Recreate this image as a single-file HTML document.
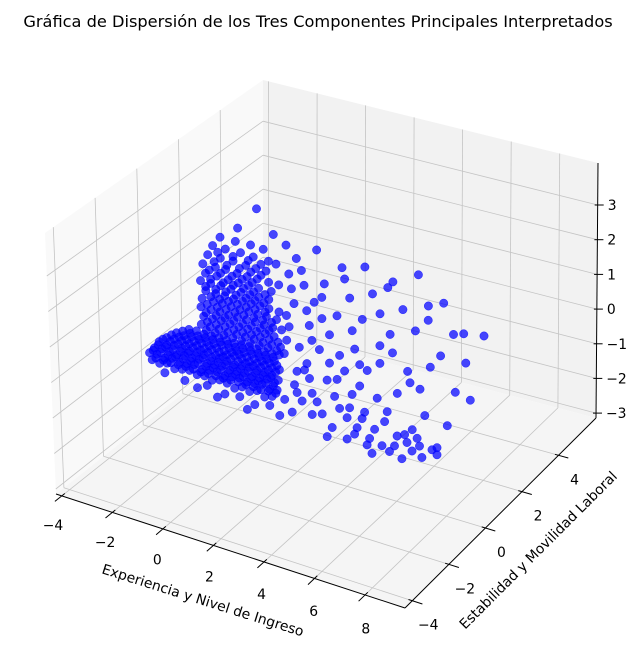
<!DOCTYPE html>
<html><head><meta charset="utf-8"><style>
html,body{margin:0;padding:0;background:#fff}
svg{display:block;font-family:"DejaVu Sans","Liberation Sans",sans-serif}
</style></head><body>
<svg id="chart" width="636" height="658" viewBox="0 0 636 658" xmlns="http://www.w3.org/2000/svg">
<rect width="636" height="658" fill="#fff"/>
<text x="318" y="27" text-anchor="middle" font-size="16.2" fill="#000">Gráfica de Dispersión de los Tres Componentes Principales Interpretados</text>
<g id="panes"></g>
<g id="grid"></g>
<g id="axes"></g>
<g id="points"></g>
<text x="203" y="605" text-anchor="middle" font-size="13.9" transform="rotate(17.5 203 600)">Experiencia y Nivel de Ingreso</text>
<text x="538" y="555" text-anchor="middle" font-size="13.9" transform="rotate(-45 538 550)">Estabilidad y Movilidad Laboral</text>
</svg>
<script>
const xTicks=[-4,-2,0,2,4,6,8];
const yTicks=[-4,-2,0,2,4];
const zTicks=[-3,-2,-1,0,1,2,3];
const xRange=[-4.23,9.58];
const yRange=[-4.4,6.05];
const zRange=[-3.14,4.21];
// dense cluster: [x, y, z]
const denseCluster=[
[-3.8,0,-1.18],[-3.5,0,-1.22],[-3.2,0,-1.15],[-2.9,0,-1.25],[-2.6,0,-1.2],[-2.3,0,-1.17],[-2.0,0,-1.23],[-1.7,0,-1.2],[-1.4,0,-1.26],[-1.1,0,-1.19],[-0.8,0,-1.22],[-0.5,0,-1.3],[-0.2,0,-1.2],[0.1,0,-1.27],[0.4,0,-1.18],[0.7,0,-1.3],[1.0,0,-1.22],
[-3.9,0,-1.0],[-3.6,0,-0.98],[-3.3,0,-1.03],[-3.0,0,-0.97],[-2.7,0,-1.02],[-2.4,0,-1.0],[-2.1,0,-0.96],[-1.8,0,-1.04],[-1.5,0,-1.0],[-1.2,0,-0.98],[-0.9,0,-1.03],[-0.6,0,-1.0],[-0.3,0,-0.97],[0.0,0,-1.02],[0.3,0,-1.0],[0.6,0,-0.96],[0.9,0,-1.04],[1.2,0,-1.0],
[-3.7,0,-0.82],[-3.4,0,-0.78],[-3.1,0,-0.8],[-2.8,0,-0.83],[-2.5,0,-0.79],[-2.2,0,-0.8],[-1.9,0,-0.77],[-1.6,0,-0.82],[-1.3,0,-0.8],[-1.0,0,-0.78],[-0.7,0,-0.83],[-0.4,0,-0.8],[-0.1,0,-0.79],[0.2,0,-0.82],[0.5,0,-0.8],[0.8,0,-0.77],[1.1,0,-0.81],
[-3.5,0,-0.6],[-3.2,0,-0.63],[-2.9,0,-0.58],[-2.6,0,-0.6],[-2.3,0,-0.62],[-2.0,0,-0.59],[-1.7,0,-0.6],[-1.4,0,-0.61],[-1.1,0,-0.58],[-0.8,0,-0.6],[-0.5,0,-0.63],[-0.2,0,-0.6],[0.1,0,-0.58],[0.4,0,-0.61],[0.7,0,-0.6],[1.0,0,-0.62],
[-3.2,0,-0.42],[-2.9,0,-0.4],[-2.6,0,-0.38],[-2.3,0,-0.41],[-2.0,0,-0.4],[-1.7,0,-0.42],[-1.4,0,-0.39],[-1.1,0,-0.4],[-0.8,0,-0.41],[-0.5,0,-0.38],[-0.2,0,-0.4],[0.1,0,-0.42],[0.4,0,-0.4],[0.7,0,-0.39],[1.0,0,-0.41],[1.3,0,-0.4],
[-2.8,0,-0.2],[-2.5,0,-0.22],[-2.2,0,-0.19],[-1.9,0,-0.2],[-1.6,0,-0.21],[-1.3,0,-0.2],[-1.0,0,-0.18],[-0.7,0,-0.2],[-0.4,0,-0.22],[-0.1,0,-0.2],[0.2,0,-0.19],[0.5,0,-0.2],[0.8,0,-0.21],[1.1,0,-0.2],
[-2.3,0,0.0],[-2.0,0,0.02],[-1.7,0,-0.01],[-1.4,0,0.0],[-1.1,0,0.01],[-0.8,0,0.0],[-0.5,0,-0.02],[-0.2,0,0.0],[0.1,0,0.01],[0.4,0,0.0],[0.7,0,-0.01],[1.0,0,0.0],[1.3,0,0.02],
[-3.3,0,-1.45],[-2.5,0,-1.5],[-1.6,0,-1.45],[-0.9,0,-1.55],[-0.3,0,-1.5],[0.3,0,-1.6],[0.9,0,-1.5],[-2.0,0,-1.6],[1.3,0,-1.7],[0.0,0,-1.8],[-1.2,0,-1.7],
[-1.8,0,0.25],[-1.45,0,0.25],[-1.1,0,0.26],[-0.75,0,0.24],[-0.4,0,0.25],[-0.05,0,0.25],[0.3,0,0.26],[0.65,0,0.24],[1.0,0,0.25],[1.35,0,0.25],
[-1.7,0,0.5],[-1.35,0,0.5],[-1.0,0,0.52],[-0.65,0,0.5],[-0.3,0,0.49],[0.05,0,0.5],[0.4,0,0.5],[0.75,0,0.51],[1.1,0,0.5],
[-1.8,0,0.75],[-1.4,0,0.75],[-1.05,0,0.76],[-0.7,0,0.74],[-0.35,0,0.75],[0.0,0,0.75],[0.35,0,0.76],[0.7,0,0.75],[1.05,0,0.74],[1.4,0,0.75],
[-1.75,0,1.0],[-1.3,0,1.0],[-0.95,0,1.02],[-0.6,0,1.0],[-0.25,0,0.99],[0.1,0,1.0],[0.45,0,1.0],[0.8,0,1.01],[1.2,0,1.0],
[-1.6,0,1.25],[-1.2,0,1.25],[-0.85,0,1.26],[-0.5,0,1.24],[-0.15,0,1.25],[0.2,0,1.25],[0.55,0,1.26],[0.9,0,1.25],[1.3,0,1.24],
[-1.8,0,1.5],[-1.4,0,1.5],[-1.0,0,1.52],[-0.6,0,1.5],[-0.2,0,1.49],[0.15,0,1.5],[0.5,0,1.5],[0.9,0,1.51],
[-1.6,0,1.75],[-1.15,0,1.76],[-0.7,0,1.75],[-0.3,0,1.74],[0.1,0,1.75],[0.5,0,1.75],[1.0,0,1.76],
[-1.7,0,2.0],[-1.2,0,2.0],[-0.8,0,2.02],[-0.35,0,2.0],[0.05,0,1.99],[0.45,0,2.0],[0.9,0,2.0],[1.3,0,2.01],
[-1.5,0,2.3],[-1.0,0,2.3],[-0.5,0,2.32],[0.0,0,2.3],[0.4,0,2.29],[0.8,0,2.3],
[-1.3,0,2.6],[-0.8,0,2.6],[-0.2,0,2.62],[0.3,0,2.6],[0.9,0,2.6],[1.2,0,2.58],
[-1.0,0,2.9],[-0.4,0,2.9],[0.2,0,2.92],[0.7,0,2.9],
[0.45,0,4.0],[-0.3,0,3.3],[1.1,0,3.4]
];
// additional dense-cluster points filling the core: [x, y, z]
const denseFill=[
[-3.65,0,-1.1],[-3.35,0,-1.1],[-3.05,0,-1.11],[-2.75,0,-1.1],[-2.45,0,-1.09],[-2.15,0,-1.1],[-1.85,0,-1.12],[-1.55,0,-1.1],[-1.25,0,-1.1],[-0.95,0,-1.11],[-0.65,0,-1.1],[-0.35,0,-1.09],[-0.05,0,-1.1],[0.25,0,-1.1],[0.55,0,-1.12],[0.85,0,-1.1],[1.15,0,-1.1],
[-3.75,0,-0.9],[-3.45,0,-0.9],[-3.15,0,-0.91],[-2.85,0,-0.9],[-2.55,0,-0.89],[-2.25,0,-0.9],[-1.95,0,-0.9],[-1.65,0,-0.92],[-1.35,0,-0.9],[-1.05,0,-0.9],[-0.75,0,-0.91],[-0.45,0,-0.9],[-0.15,0,-0.9],[0.15,0,-0.89],[0.45,0,-0.9],[0.75,0,-0.9],[1.05,0,-0.91],
[-3.55,0,-0.7],[-3.25,0,-0.7],[-2.95,0,-0.71],[-2.65,0,-0.7],[-2.35,0,-0.69],[-2.05,0,-0.7],[-1.75,0,-0.7],[-1.45,0,-0.72],[-1.15,0,-0.7],[-0.85,0,-0.7],[-0.55,0,-0.71],[-0.25,0,-0.7],[0.05,0,-0.7],[0.35,0,-0.69],[0.65,0,-0.7],[0.95,0,-0.7],[1.25,0,-0.71],
[-3.35,0,-0.5],[-3.05,0,-0.5],[-2.75,0,-0.51],[-2.45,0,-0.5],[-2.15,0,-0.49],[-1.85,0,-0.5],[-1.55,0,-0.5],[-1.25,0,-0.52],[-0.95,0,-0.5],[-0.65,0,-0.5],[-0.35,0,-0.51],[-0.05,0,-0.5],[0.25,0,-0.5],[0.55,0,-0.49],[0.85,0,-0.5],[1.15,0,-0.5],
[-3.0,0,-0.3],[-2.7,0,-0.3],[-2.4,0,-0.31],[-2.1,0,-0.3],[-1.8,0,-0.29],[-1.5,0,-0.3],[-1.2,0,-0.3],[-0.9,0,-0.32],[-0.6,0,-0.3],[-0.3,0,-0.3],[0.0,0,-0.31],[0.3,0,-0.3],[0.6,0,-0.3],[0.9,0,-0.29],[1.2,0,-0.3],
[-2.55,0,-0.1],[-2.25,0,-0.1],[-1.95,0,-0.11],[-1.65,0,-0.1],[-1.35,0,-0.09],[-1.05,0,-0.1],[-0.75,0,-0.1],[-0.45,0,-0.12],[-0.15,0,-0.1],[0.15,0,-0.1],[0.45,0,-0.11],[0.75,0,-0.1],[1.05,0,-0.1],
[-1.6,0,0.12],[-1.25,0,0.12],[-0.9,0,0.13],[-0.55,0,0.12],[-0.2,0,0.11],[0.15,0,0.12],[0.5,0,0.12],[0.85,0,0.13],[1.2,0,0.12],
[-1.55,0,0.37],[-1.2,0,0.37],[-0.85,0,0.38],[-0.5,0,0.37],[-0.15,0,0.36],[0.2,0,0.37],[0.55,0,0.37],[0.9,0,0.38],[1.25,0,0.37],
[-1.6,0,0.62],[-1.2,0,0.62],[-0.85,0,0.63],[-0.5,0,0.62],[-0.15,0,0.61],[0.2,0,0.62],[0.55,0,0.62],[0.9,0,0.63],
[-1.55,0,0.87],[-1.15,0,0.87],[-0.8,0,0.88],[-0.45,0,0.87],[-0.1,0,0.86],[0.3,0,0.87],[0.65,0,0.87],[1.0,0,0.88],
[-1.4,0,1.12],[-1.05,0,1.12],[-0.7,0,1.13],[-0.35,0,1.12],[0.0,0,1.11],[0.35,0,1.12],[0.75,0,1.12],
[-1.6,0,1.37],[-1.2,0,1.37],[-0.8,0,1.38],[-0.4,0,1.37],[0.0,0,1.36],[0.35,0,1.37],[0.7,0,1.37],
[-1.4,0,1.62],[-0.9,0,1.62],[-0.5,0,1.63],[-0.1,0,1.62],[0.3,0,1.61],[0.75,0,1.62],
[-1.45,0,1.87],[-1.0,0,1.87],[-0.55,0,1.88],[-0.15,0,1.87],[0.25,0,1.86],
[-1.25,0,2.15],[-0.75,0,2.15],[-0.25,0,2.16],[0.2,0,2.15],[0.6,0,2.14],
[-1.1,0,2.45],[-0.5,0,2.45],[0.1,0,2.46],[0.6,0,2.45]
];
// sparse cluster: [x, y, z]
const sparseCluster=[
[1.6,0,3.2],[2.2,0,2.6],[1.8,0,2.0],[2.4,0,1.5],[1.7,0,0.9],[2.1,0,0.4],[2.3,0,-0.2],[1.9,0,-0.7],[2.2,0,-1.1],[1.8,0,-1.5],[2.0,0,2.9],[1.6,0,1.2],[2.4,0,0.0],[2.0,0,-0.9],
[2.8,0,3.3],[3.1,0,2.4],[2.7,0,1.8],[3.3,0,1.0],[2.9,0,0.5],[3.2,0,-0.3],[2.6,0,-0.8],[3.0,0,-1.3],[3.4,0,-1.6],[3.0,0,2.0],[3.3,0,0.2],[2.8,0,-1.0],
[3.8,0,3.0],[4.1,0,2.2],[3.6,0,1.6],[4.3,0,0.8],[3.9,0,0.1],[4.2,0,-0.5],[3.7,0,-1.0],[4.4,0,-1.4],[4.0,0,-1.8],[4.2,0,1.3],[3.6,0,-0.2],[4.0,0,-1.2],
[4.7,0,3.2],[5.0,0,2.5],[4.6,0,1.7],[5.3,0,1.1],[4.8,0,0.3],[5.2,0,-0.4],[4.7,0,-0.9],[5.1,0,-1.3],[5.4,0,-1.7],[5.0,0,-2.0],[5.3,0,2.0],[4.6,0,-1.1],
[5.8,0,3.0],[6.2,0,2.3],[5.7,0,1.5],[6.4,0,0.6],[6.0,0,-0.1],[5.6,0,-0.7],[6.3,0,-1.2],[5.9,0,-1.6],[6.2,0,-1.9],[5.8,0,1.0],[6.4,0,-1.4],
[6.8,0,3.4],[7.2,0,2.6],[6.7,0,1.8],[7.3,0,0.9],[6.9,0,0.2],[7.1,0,-0.5],[6.6,0,-1.0],[7.4,0,-1.4],[7.0,0,-1.7],[7.2,0,2.2],[6.8,0,-1.2],
[7.8,0,2.8],[8.2,0,2.0],[7.7,0,1.3],[8.3,0,0.4],[8.0,0,-0.6],[7.6,0,-1.3],[7.6,0,-1.5],
[8.6,0,2.1],[9.4,0,2.2],[8.7,0,1.3],[8.9,0,0.3],
[2.5,0,1.1],[3.5,0,-0.7],[4.5,0,0.4],[5.5,0,-1.0],[6.5,0,0.3],[4.9,0,-1.6],[3.2,0,-1.9],[5.7,0,-1.8],[6.6,0,-1.6],[2.6,0,-1.4],[4.3,0,-1.6],[3.9,0,2.7],[5.6,0,2.8],[2.3,0,2.2],[1.5,0,-1.2],[1.5,0,0.1],
[1.7,0,2.4],[1.9,0,1.6],[1.6,0,0.5],[2.0,0,-0.3],[2.6,0,0.7],[2.5,0,-0.4],[3.0,0,1.4],[3.7,0,0.5],[4.5,0,-0.2],[4.1,0,-0.9],[5.3,0,0.6],[6.0,0,-1.3],[6.9,0,-1.4],[4.8,0,-1.8]
];

const SVGNS='http://www.w3.org/2000/svg';
const A=[56,494],B=[405,608],C=[596,418],D=[263,330];
const At=[45,233],Bt=[411,340],Ct=[598,163],Dt=[263,80];
function bil(p00,p10,p11,p01,u,v){
  return [
    (1-u)*(1-v)*p00[0]+u*(1-v)*p10[0]+u*v*p11[0]+(1-u)*v*p01[0],
    (1-u)*(1-v)*p00[1]+u*(1-v)*p10[1]+u*v*p11[1]+(1-u)*v*p01[1]
  ];
}
function P(x,y,z){
  const u=(x-xRange[0])/(xRange[1]-xRange[0]);
  const v=(y-yRange[0])/(yRange[1]-yRange[0]);
  const w=(z-zRange[0])/(zRange[1]-zRange[0]);
  const f=bil(A,B,C,D,u,v), t=bil(At,Bt,Ct,Dt,u,v);
  return [f[0]+(t[0]-f[0])*w, f[1]+(t[1]-f[1])*w];
}
function mk(tag,attrs,parent){
  const e=document.createElementNS(SVGNS,tag);
  for(const k in attrs) e.setAttribute(k,attrs[k]);
  parent.appendChild(e); return e;
}
function line(p,q,parent,color,wd,name){
  const e=mk('line',{x1:p[0].toFixed(1),y1:p[1].toFixed(1),x2:q[0].toFixed(1),y2:q[1].toFixed(1),stroke:color,'stroke-width':wd},parent);
  
  
  return e;
}
function poly(pts,fill,parent,name){
  const e=mk('polygon',{points:pts.map(p=>p[0].toFixed(1)+','+p[1].toFixed(1)).join(' '),fill:fill},parent);
  
  
}
const X0=xRange[0],X1=xRange[1],Y0=yRange[0],Y1=yRange[1],Z0=zRange[0],Z1=zRange[1];
const panes=document.getElementById('panes');
poly([P(X0,Y0,Z0),P(X0,Y1,Z0),P(X0,Y1,Z1),P(X0,Y0,Z1)],'#f9f9f9',panes,'left-pane');
poly([P(X0,Y1,Z0),P(X1,Y1,Z0),P(X1,Y1,Z1),P(X0,Y1,Z1)],'#f2f2f2',panes,'back-pane');
poly([P(X0,Y0,Z0),P(X1,Y0,Z0),P(X1,Y1,Z0),P(X0,Y1,Z0)],'#f5f5f5',panes,'floor-pane');
const grid=document.getElementById('grid');
const gc='#c4c4c4';
xTicks.forEach(x=>{
  line(P(x,Y0,Z0),P(x,Y1,Z0),grid,gc,0.8,'floor-x-grid-line');
  line(P(x,Y1,Z0),P(x,Y1,Z1),grid,gc,0.8,'back-x-grid-line');
});
yTicks.forEach(y=>{
  line(P(X0,y,Z0),P(X1,y,Z0),grid,gc,0.8,'floor-y-grid-line');
  line(P(X0,y,Z0),P(X0,y,Z1),grid,gc,0.8,'left-y-grid-line');
});
zTicks.forEach(z=>{
  line(P(X0,Y0,z),P(X0,Y1,z),grid,gc,0.8,'left-z-grid-line');
  line(P(X0,Y1,z),P(X1,Y1,z),grid,gc,0.8,'back-z-grid-line');
});
const axes=document.getElementById('axes');
line(P(X0,Y0,Z0),P(X1,Y0,Z0),axes,'#000',1,'x-axis-line');
line(P(X1,Y0,Z0),P(X1,Y1,Z0),axes,'#000',1,'y-axis-line');
line(P(X1,Y1,Z0),P(X1,Y1,Z1),axes,'#000',1,'z-axis-line');
function label(txt,x,y,anchor,name){
  const t=mk('text',{x:x.toFixed(1),y:y.toFixed(1),'text-anchor':anchor,'font-size':'13.9','dominant-baseline':'middle',fill:'#000'},axes);
  t.textContent=txt;
  
  
}
const fmt=v=>v<0?'\u2212'+Math.abs(v):String(v);
xTicks.forEach(x=>{
  const p=P(x,Y0,Z0);
  line(P(x,Y0+0.15,Z0),P(x,Y0-0.35,Z0),axes,'#000',1,'x-tick');
  const u=(x-X0)/(X1-X0);
  label(fmt(x),p[0]-9+11*u,p[1]+30+5*u,'middle','x-tick-label');
});
yTicks.forEach(y=>{
  const p=P(X1,y,Z0);
  line(P(X1-0.15,y,Z0),P(X1+0.4,y,Z0),axes,'#000',1,'y-tick');
  label(fmt(y),p[0]+16,p[1]+25,'middle','y-tick-label');
});
zTicks.forEach(z=>{
  const p=P(X1,Y1,z);
  line([p[0]-3,p[1]],[p[0]+6,p[1]],axes,'#000',1,'z-tick');
  label(fmt(z),p[0]+10,p[1]+1,'start','z-tick-label');
});
const pg=document.getElementById('points');
function drawPts(arr,name){
  arr.forEach(d=>{
    const p=P(d[0],d[1],d[2]);
    const c=mk('circle',{cx:p[0].toFixed(1),cy:p[1].toFixed(1),r:'4.2',fill:'#0000ff','fill-opacity':'0.72',stroke:'#0000ff','stroke-opacity':'0.72','stroke-width':'0.5'},pg);
    
    
  });
}
drawPts(sparseCluster,'scatter-point');
drawPts(denseCluster,'scatter-point');
drawPts(denseFill,'scatter-point');
</script>
</body></html>
